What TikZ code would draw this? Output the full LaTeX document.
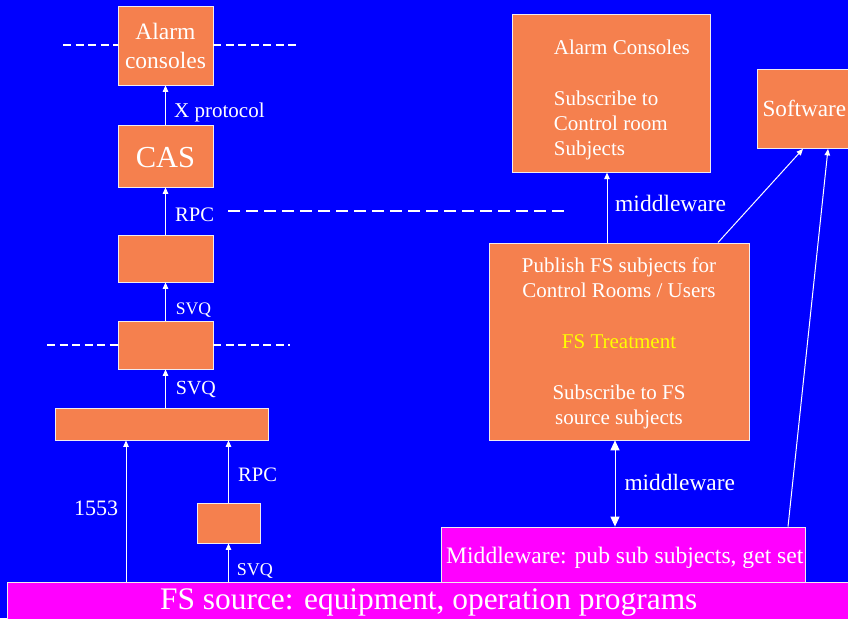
\documentclass[tikz,border=0pt]{standalone}
\usepackage{fontspec}
\setmainfont{Liberation Serif}
\usetikzlibrary{arrows.meta}
\definecolor{bgblue}{RGB}{0,0,255}
\definecolor{boxorange}{RGB}{245,128,78}
\definecolor{magbox}{RGB}{255,0,255}
\definecolor{boxedge}{RGB}{240,235,240}
\definecolor{fsyellow}{RGB}{255,255,0}
\begin{document}
\begin{tikzpicture}[x=1pt,y=-1pt,
  box/.style={draw=boxedge, line width=0.8pt, fill=boxorange, inner sep=0pt},
  mbox/.style={box, fill=magbox},
  txt/.style={text=white, inner sep=0pt},
  arr/.style={draw=white, line width=1pt, -{Triangle[width=5.5pt,length=6.5pt]}},
  darr/.style={draw=white, line width=1pt, {Triangle[width=9pt,length=10pt]}-{Triangle[width=9pt,length=10pt]}},
  dsh/.style={draw=white, line width=2pt, dash pattern=on 8pt off 4.5pt},
  dshlong/.style={draw=white, line width=2pt, dash pattern=on 12pt off 6pt}]
\useasboundingbox (0,0) rectangle (848,618);
\fill[bgblue] (0,0) rectangle (848,618);

% ---------- left column boxes ----------
\node[box, minimum width=95, minimum height=79] (alarmL) at (165.5,45.5) {};
\node[box, minimum width=95, minimum height=62] (cas) at (165.5,156) {};
\node[box, minimum width=95, minimum height=47] (b3) at (165.5,258.5) {};
\node[box, minimum width=95, minimum height=48] (b4) at (165.5,345) {};
\node[box, minimum width=213, minimum height=32] (b5) at (161.5,424) {};
\node[box, minimum width=63, minimum height=40] (small) at (228.5,523) {};

% multi-line nodes: base anchor = baseline of the last line
\node[txt, anchor=base, align=center, font=\fontsize{23.5}{29}\selectfont] (alarmLt) at (165.5,68.3) {Alarm\\consoles};
\node[txt, anchor=base, font=\fontsize{30.5}{36}\selectfont] (cast) at (165.5,167.7) {CAS};

% ---------- bottom bars ----------
\node[mbox, minimum width=845, minimum height=40] (fssrc) at (430,602) {};
\node[txt, anchor=base west, font=\fontsize{31.4}{36}\selectfont] (fssrct) at (160,609.5) {FS source: equipment, operation programs};
\node[mbox, minimum width=364, minimum height=55] (mw) at (623,554.5) {};
\node[txt, anchor=base west, font=\fontsize{23.6}{28}\selectfont] (mwt) at (446,563.3) {Middleware: pub sub subjects, get set};

% ---------- right boxes ----------
\node[box, minimum width=198, minimum height=158] (alarmR) at (611.3,93.2) {};
\node[txt, anchor=base west, align=left, font=\fontsize{21}{25.3}\selectfont] (alarmRt) at (553.7,155.7) {Alarm Consoles\\[25.3pt]Subscribe to\\Control room\\Subjects};
\node[box, minimum width=96, minimum height=79] (soft) at (805,109) {};
\node[txt, anchor=base west, font=\fontsize{23.2}{28}\selectfont] (softt) at (762.3,116.7) {Software};
\node[box, minimum width=260, minimum height=197] (fst) at (619,341.4) {};
\node[txt, anchor=base, align=center, font=\fontsize{21}{25.3}\selectfont] (fstt) at (619,424.3) {Publish FS subjects for\\Control Rooms / Users\\[25.3pt]\textcolor{fsyellow}{FS Treatment}\\[25.3pt]Subscribe to FS\\source subjects};

% ---------- dashed lines ----------
\coordinate (d1a) at (63,45.5);
\coordinate (d1b) at (298,45.5);
\draw[dsh] (d1a) -- (d1a -| alarmL.west);
\draw[dsh] (alarmL.east |- d1b) -- (d1b);
\coordinate (d2a) at (228,211);
\coordinate (d2b) at (568,211);
\draw[dshlong] (d2a) -- (d2b);
\coordinate (d3a) at (47,345);
\coordinate (d3b) at (290,345);
\draw[dsh] (d3a) -- (d3a -| b4.west);
\draw[dsh] (b4.east |- d3b) -- (d3b);

% ---------- left arrows ----------
\draw[arr] (cas.north) -- (alarmL.south);
\draw[arr] (b3.north) -- (cas.south);
\draw[arr] (b4.north) -- (b3.south);
\draw[arr] (b4.south |- b5.north) -- (b4.south);
\coordinate (c1553) at (126,500);
\draw[arr] (c1553 |- fssrc.north) -- (c1553 |- b5.south);
\draw[arr] (small.north) -- (small.north |- b5.south);
\draw[arr] (small.south |- fssrc.north) -- (small.south);

% ---------- left labels ----------
\node[txt, anchor=base west, font=\fontsize{21}{25}\selectfont] (lxp) at (174,117.3) {X protocol};
\node[txt, anchor=base west, font=\fontsize{20.6}{25}\selectfont] (lrpc1) at (175,221.7) {RPC};
\node[txt, anchor=base west, font=\fontsize{17.6}{21}\selectfont] (lsvq1) at (175.7,314) {SVQ};
\node[txt, anchor=base west, font=\fontsize{20}{24}\selectfont] (lsvq2) at (175.7,394) {SVQ};
\node[txt, anchor=base west, font=\fontsize{22}{26}\selectfont] (l1553) at (74,515) {1553};
\node[txt, anchor=base west, font=\fontsize{20.5}{25}\selectfont] (lrpc2) at (238,481) {RPC};
\node[txt, anchor=base west, font=\fontsize{18}{22}\selectfont] (lsvq3) at (236.7,575) {SVQ};

% ---------- right arrows ----------
\coordinate (cmw) at (607,200);
\draw[arr] (cmw |- fst.north) -- (cmw |- alarmR.south);
\coordinate (cs1a) at (718,240);
\coordinate (cs1b) at (803,150);
\draw[arr] (cs1a |- fst.north) -- (cs1b |- soft.south);
\coordinate (cs2a) at (788,520);
\coordinate (cs2b) at (828,150);
\draw[arr] (cs2a |- mw.north) -- (cs2b |- soft.south);
\coordinate (cdm) at (615,480);
\draw[darr] (cdm |- fst.south) -- (cdm |- mw.north);

\node[txt, anchor=base west, font=\fontsize{23.5}{28}\selectfont] (lmw1) at (615,211) {middleware};
\node[txt, anchor=base west, font=\fontsize{23.4}{28}\selectfont] (lmw2) at (624.3,490.7) {middleware};
\end{tikzpicture}
\end{document}
